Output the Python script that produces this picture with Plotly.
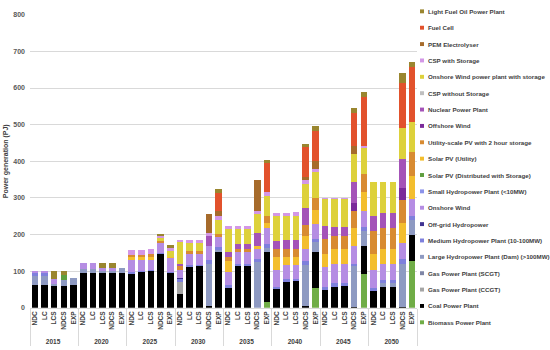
import plotly.graph_objects as go

years = ["2015", "2020", "2025", "2030", "2035", "2040", "2045", "2050"]
scenarios = ["NDC", "LC", "LCS", "NDCS", "EXP"]

# values in PJ, order: for each year -> NDC, LC, LCS, NDCS, EXP
biomass = [0, 0, 0, 0, 0,  0, 0, 0, 0, 0,  0, 0, 0, 0, 0,  0, 0, 0, 0, 0,
           0, 0, 0, 0, 16,  0, 0, 0, 0, 55,  0, 0, 0, 0, 91,  0, 0, 0, 0, 129]
coal = [61, 61, 59, 59, 61,  95, 95, 96, 96, 96,  92, 98, 100, 146, 94,  37, 111, 113, 4, 152,
        55, 114, 114, 0, 136,  52, 71, 73, 4, 97,  49, 58, 59, 3, 78,  45, 58, 58, 3, 71]
gas_ccgt = [0, 0, 0, 0, 0,  0, 0, 0, 0, 0,  0, 0, 0, 0, 0,  33, 0, 0, 0, 0,
            0, 0, 0, 0, 0,  0, 0, 0, 0, 0,  0, 0, 0, 0, 0,  0, 0, 0, 0, 0]
gas_scgt = [0, 0, 0, 0, 0,  0, 0, 0, 0, 0,  0, 0, 0, 0, 0,  0, 0, 0, 0, 0,
            0, 0, 0, 0, 0,  0, 0, 0, 0, 0,  0, 0, 0, 0, 0,  0, 0, 0, 0, 0]
large_hydro = [27, 27, 5, 18, 21,  12, 12, 5, 5, 14,  0, 0, 0, 0, 0,  0, 0, 0, 116, 5,
               0, 0, 0, 125, 10,  0, 0, 0, 114, 28,  0, 0, 0, 111, 41,  0, 10, 10, 117, 41]
medium_hydro = [7, 7, 0, 0, 0,  0, 0, 0, 0, 0,  5, 3, 3, 3, 5,  8, 5, 5, 10, 8,
                7, 6, 6, 8, 12,  6, 7, 7, 10, 9,  9, 9, 9, 6, 10,  8, 8, 8, 12, 9]
offgrid_hydro = [0, 0, 0, 0, 0,  0, 0, 0, 0, 0,  0, 0, 0, 0, 0,  4, 0, 0, 0, 0,
                 0, 0, 0, 0, 0,  0, 0, 0, 0, 0,  0, 0, 0, 0, 0,  0, 0, 0, 0, 0]
onshore_wind = [5, 5, 16, 0, 0,  16, 16, 9, 9, 0,  33, 29, 28, 28, 37,  21, 30, 29, 40, 27,
                36, 32, 32, 27, 44,  45, 38, 36, 32, 41,  53, 53, 52, 49, 43,  50, 44, 44, 46, 48]
small_hydro = [0, 0, 0, 0, 0,  0, 0, 0, 0, 0,  0, 0, 0, 0, 0,  0, 0, 0, 0, 0,
               0, 0, 0, 0, 0,  0, 0, 0, 0, 0,  0, 0, 0, 0, 0,  0, 0, 0, 0, 0]
solar_dist = [0, 0, 0, 13, 0,  0, 0, 0, 0, 0,  0, 0, 0, 0, 0,  0, 0, 0, 0, 0,
              0, 0, 0, 0, 0,  0, 0, 0, 0, 0,  0, 0, 0, 0, 0,  0, 0, 0, 0, 0]
solar_util = [0, 0, 0, 0, 0,  0, 0, 0, 0, 0,  8, 8, 8, 0, 3,  0, 0, 0, 0, 0,
              29, 0, 0, 10, 14,  35, 22, 22, 36, 38,  36, 40, 40, 50, 53,  45, 40, 40, 54, 63]
util_pv_2h = [0, 0, 0, 0, 0,  0, 0, 0, 0, 0,  7, 7, 8, 5, 0,  11, 8, 8, 0, 9,
              11, 9, 9, 0, 18,  22, 22, 22, 31, 31,  40, 36, 36, 44, 48,  62, 58, 58, 62, 64]
offshore_wind = [0, 0, 0, 0, 0,  0, 0, 0, 0, 0,  0, 0, 0, 0, 0,  0, 0, 0, 0, 0,
                 0, 0, 0, 0, 0,  0, 0, 0, 0, 0,  0, 0, 0, 22, 0,  0, 0, 0, 34, 0]
nuclear = [0, 0, 0, 0, 0,  0, 0, 0, 0, 0,  0, 0, 0, 0, 0,  6, 0, 0, 26, 0,
           15, 13, 13, 35, 0,  23, 25, 25, 45, 0,  36, 25, 25, 58, 0,  40, 41, 41, 78, 0]
csp_no_storage = [0, 0, 0, 0, 0,  0, 0, 0, 0, 0,  0, 0, 0, 0, 0,  0, 0, 0, 0, 0,
                  0, 0, 0, 0, 0,  0, 0, 0, 0, 0,  0, 0, 0, 0, 0,  0, 0, 0, 0, 0]
wind_storage = [0, 0, 0, 0, 0,  0, 0, 0, 0, 0,  0, 0, 0, 8, 17,  60, 22, 22, 0, 40,
                61, 40, 40, 50, 55,  67, 65, 66, 67, 71,  73, 75, 75, 76, 73,  93, 84, 84, 84, 83]
csp_storage = [0, 0, 0, 0, 0,  0, 0, 0, 0, 0,  13, 13, 13, 5, 8,  5, 9, 9, 9, 9,
               9, 9, 10, 9, 12,  10, 10, 10, 9, 9,  5, 5, 5, 0, 6,  0, 0, 0, 0, 0]
pem = [0, 0, 0, 0, 0,  0, 0, 0, 0, 0,  0, 0, 0, 0, 0,  0, 0, 0, 51, 13,
       0, 0, 0, 84, 0,  0, 0, 0, 10, 22,  0, 0, 0, 22, 0,  0, 0, 0, 0, 0]
fuel_cell = [0, 0, 0, 0, 0,  0, 0, 0, 0, 0,  0, 0, 0, 0, 0,  0, 0, 0, 0, 50,
             0, 0, 0, 0, 78,  0, 0, 0, 82, 81,  0, 0, 0, 90, 132,  0, 0, 0, 125, 150]
light_fuel_oil = [0, 0, 20, 10, 0,  0, 0, 13, 13, 0,  0, 0, 0, 7, 7,  0, 0, 0, 0, 12,
                  0, 0, 0, 0, 9,  0, 0, 0, 8, 13,  0, 0, 0, 15, 15,  0, 0, 0, 25, 12]

series = [
    ("Biomass Power Plant", biomass, "#70AD47"),
    ("Coal Power Plant", coal, "#000000"),
    ("Gas Power Plant (CCGT)", gas_ccgt, "#A5A5A5"),
    ("Gas Power Plant (SCGT)", gas_scgt, "#7F86A6"),
    ("Large Hydropower Plant (Dam) (>100MW)", large_hydro, "#8E9AC2"),
    ("Medium Hydropower Plant (10-100MW)", medium_hydro, "#7E80DC"),
    ("Off-grid Hydropower", offgrid_hydro, "#3F3391"),
    ("Onshore Wind", onshore_wind, "#B58DE3"),
    ("Small Hydropower Plant (<10MW)", small_hydro, "#8C93EA"),
    ("Solar PV (Distributed with Storage)", solar_dist, "#5E9E3E"),
    ("Solar PV (Utility)", solar_util, "#F3BE2E"),
    ("Utility-scale PV with 2 hour storage", util_pv_2h, "#D88B32"),
    ("Offshore Wind", offshore_wind, "#7A2A9A"),
    ("Nuclear Power Plant", nuclear, "#A453B8"),
    ("CSP without Storage", csp_no_storage, "#BFBFBF"),
    ("Onshore Wind power plant with storage", wind_storage, "#DDD13B"),
    ("CSP with Storage", csp_storage, "#D397E6"),
    ("PEM Electrolyser", pem, "#A66B2B"),
    ("Fuel Cell", fuel_cell, "#E2522C"),
    ("Light Fuel Oil Power Plant", light_fuel_oil, "#9A862F"),
]

x_cats = [[y for y in years for s in scenarios], [s for y in years for s in scenarios]]

W, H = 550, 350
fig = go.Figure()
for name, vals, col in series:
    fig.add_trace(go.Bar(x=x_cats, y=vals, name=name, showlegend=False,
                         marker=dict(color=col, line=dict(width=0))))

font_fam = "Liberation Sans, Arial, sans-serif"
fig.update_layout(
    width=W, height=H, barmode="stack", bargap=0.32,
    margin=dict(l=0, r=0, t=0, b=0),
    paper_bgcolor="white", plot_bgcolor="white",
    font=dict(family=font_fam, color="#404040"),
    xaxis=dict(type="multicategory", domain=[30 / W, 417 / W], tickangle=-90,
               tickfont=dict(size=6.5, weight="bold", color="#404040"),
               showdividers=True, dividercolor="#d9d9d9", dividerwidth=1,
               showline=True, linecolor="#d9d9d9", linewidth=1, ticks="",
               showgrid=False),
    yaxis=dict(domain=[40 / H, 339 / H], range=[0, 800], dtick=100,
               gridcolor="#d9d9d9", gridwidth=1, zeroline=False,
               ticklabelstandoff=4,
               tickfont=dict(size=7, color="#595959", weight="bold"),
               title=dict(text="Power generation (PJ)", standoff=3,
                          font=dict(size=7, weight="bold", color="#404040"))),
)

# legend drawn on the right: entries top to bottom follow reversed stacking order
for k, (name, vals, col) in enumerate(reversed(series)):
    yc = 7.5 + k * 16.7
    fig.add_shape(type="rect", xref="paper", yref="paper",
                  x0=420 / W, x1=424 / W, y0=1 - (yc + 2) / H, y1=1 - (yc - 2) / H,
                  fillcolor=col, line=dict(width=0))
    fig.add_annotation(xref="paper", yref="paper", x=425.5 / W, y=1 - yc / H,
                       text=name, showarrow=False, xanchor="left", yanchor="middle",
                       font=dict(size=6.2, weight="bold", color="#404040", family=font_fam))

fig.write_html("out.html", config={"displayModeBar": False, "staticPlot": True},
               post_script="document.body.style.margin='0px';")
